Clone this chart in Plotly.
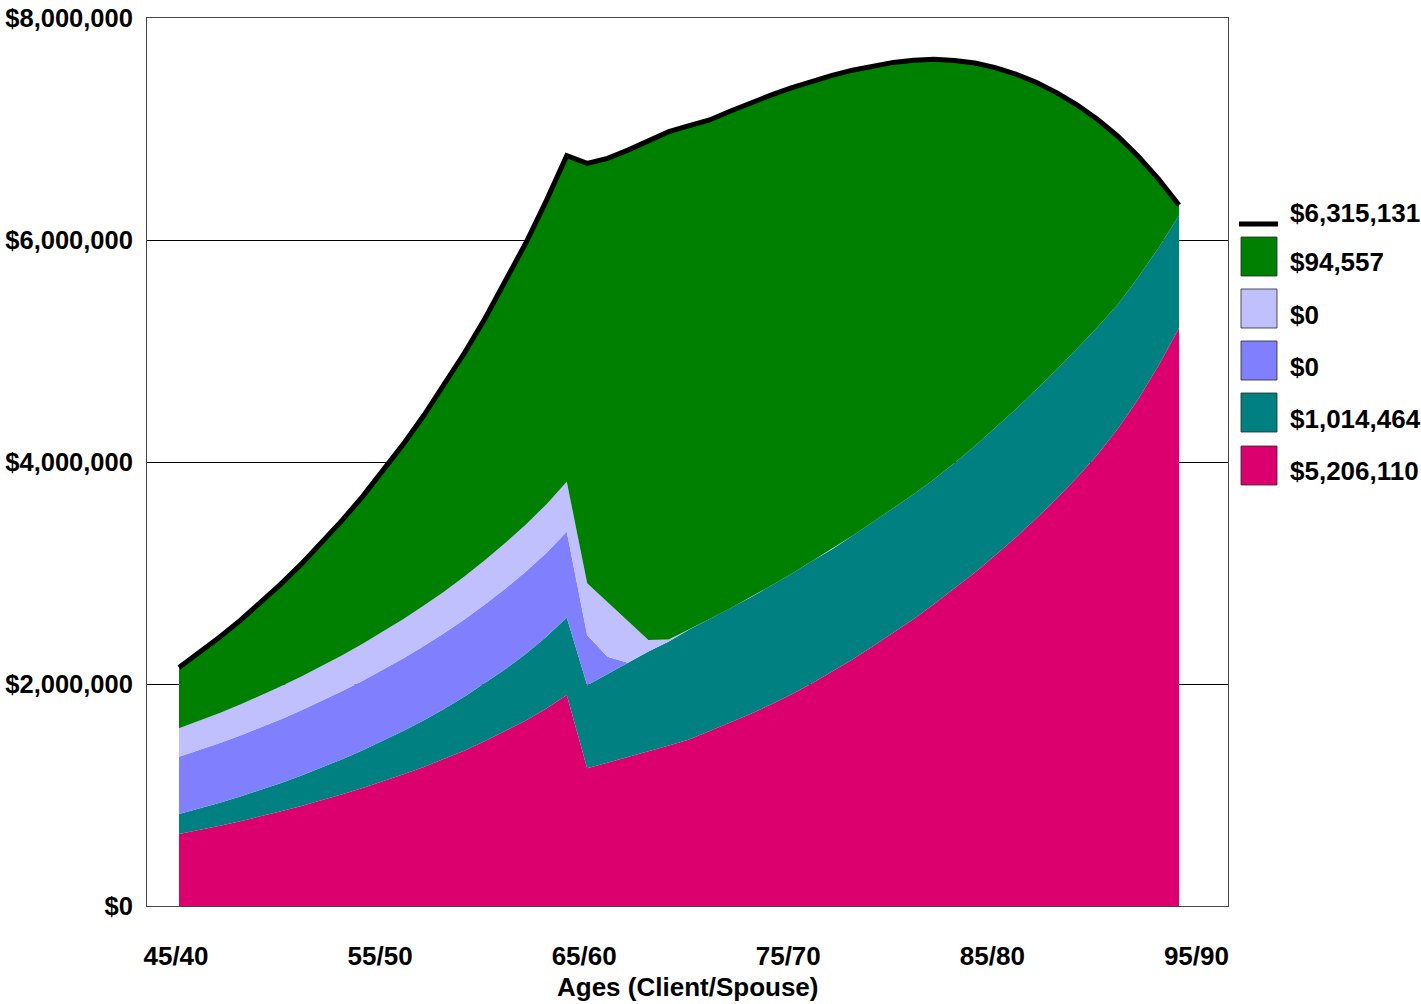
import plotly.graph_objects as go

# Client ages 45..94 (spouse is five years younger)
ages = list(range(45, 95))
tick_ages = [45, 55, 65, 75, 85, 95]
tick_labels = ["45/40", "55/50", "65/60", "75/70", "85/80", "95/90"]
y_ticks = [0, 2000000, 4000000, 6000000, 8000000]
y_tick_labels = ["$0", "$2,000,000", "$4,000,000", "$6,000,000", "$8,000,000"]

# Year-end balances by account bucket (dollars), bottom of the stack first
pink = [649000, 685000, 723000, 764000, 807000, 853000, 901000, 952000, 1006000, 1063000,
        1123000, 1186000, 1253000, 1324000, 1402000, 1486000, 1576000, 1672000, 1780000, 1900000,
        1240000, 1290000, 1340000, 1390000, 1445000, 1500000, 1575000, 1650000, 1730000, 1815000,
        1905000, 2005000, 2110000, 2220000, 2340000, 2460000, 2585000, 2720000, 2860000, 3005000,
        3160000, 3320000, 3490000, 3670000, 3860000, 4065000, 4300000, 4565000, 4870000, 5206110]
teal = [180000, 193000, 207000, 222000, 238000, 256000, 275000, 295000, 317000, 340000,
        365000, 392000, 421000, 452000, 485000, 521000, 559000, 600000, 645000, 700000,
        749000, 800000, 852000, 902000, 939000, 990000, 1010000, 1030000, 1050000, 1070000,
        1085000, 1100000, 1105000, 1115000, 1120000, 1125000, 1125000, 1125000, 1130000, 1140000,
        1150000, 1155000, 1160000, 1160000, 1160000, 1150000, 1120000, 1100000, 1060000, 1014464]
blue = [516000, 527000, 538000, 550000, 562000, 574000, 587000, 600000, 613000, 627000,
        641000, 655000, 669000, 683000, 697000, 711000, 726000, 741000, 756000, 772000,
        452000, 156000, 0, 0, 0, 0, 0, 0, 0, 0,
        0, 0, 0, 0, 0, 0, 0, 0, 0, 0,
        0, 0, 0, 0, 0, 0, 0, 0, 0, 0]
lavender = [256000, 263000, 271000, 279000, 287000, 296000, 305000, 314000, 323000, 333000,
            343000, 353000, 364000, 375000, 387000, 399000, 411000, 424000, 437000, 451000,
            466000, 491000, 375000, 104000, 18000, 0, 0, 0, 0, 0,
            0, 0, 0, 0, 0, 0, 0, 0, 0, 0,
            0, 0, 0, 0, 0, 0, 0, 0, 0, 0]
green = [547000, 613000, 684000, 758000, 838000, 923000, 1014000, 1112000, 1217000, 1328000,
         1448000, 1577000, 1714000, 1861000, 2015000, 2178000, 2352000, 2538000, 2737000, 2937000,
         3783000, 3998000, 4243000, 4494000, 4574000, 4540000, 4496000, 4480000, 4455000, 4420000,
         4380000, 4325000, 4268000, 4195000, 4110000, 4015000, 3910000, 3783000, 3628000, 3450000,
         3243000, 3020000, 2770000, 2498000, 2198000, 1873000, 1515000, 1090000, 618000, 94557]

total = [a + b + c + d + e for a, b, c, d, e in zip(pink, teal, blue, lavender, green)]

layers = [
    (pink, "#DC006E"),
    (teal, "#008080"),
    (blue, "#8080FF"),
    (lavender, "#C0C0FF"),
    (green, "#008000"),
]

W, H = 1421, 1004
ML, MR, MT, MB = 147, 193, 18, 98
FONT = "Liberation Sans, Arial, Helvetica, sans-serif"

fig = go.Figure()
for vals, col in layers:
    fig.add_trace(go.Scatter(
        x=ages, y=vals, mode="lines", stackgroup="one",
        line=dict(width=0, color=col), fillcolor=col,
        showlegend=False, hoverinfo="skip",
    ))
fig.add_trace(go.Scatter(
    x=ages, y=total, mode="lines",
    line=dict(color="black", width=5),
    showlegend=False, hoverinfo="skip",
))

# Custom legend on the right: ending balance of each bucket
plot_w = W - ML - MR
plot_h = H - MT - MB


def px_x(p):
    return (p - ML) / plot_w


def px_y(p):
    return (H - MB - p) / plot_h


shapes = []
annotations = []
legend_items = [("line", "black", total[-1], 213)]
for (vals, col), cy in zip(reversed(layers), [262, 315, 367, 419, 471]):
    legend_items.append(("box", col, vals[-1], cy))

box_tops = [237, 289, 341, 393, 446]
bi = 0
for kind, col, val, ty in legend_items:
    if kind == "line":
        shapes.append(dict(type="line", xref="paper", yref="paper",
                           x0=px_x(1239), x1=px_x(1278), y0=px_y(224), y1=px_y(224),
                           line=dict(color=col, width=5)))
    else:
        top = box_tops[bi]
        bi += 1
        shapes.append(dict(type="rect", xref="paper", yref="paper",
                           x0=px_x(1241), x1=px_x(1277), y0=px_y(top + 39), y1=px_y(top),
                           fillcolor=col, line=dict(color="rgba(40,40,40,0.8)", width=1)))
    annotations.append(dict(
        xref="paper", yref="paper", x=px_x(1288), y=px_y(ty),
        xanchor="left", yanchor="middle", showarrow=False,
        text=f"<b>${val:,.0f}</b>",
        font=dict(family=FONT, size=26, color="black"),
    ))

# Axis title sits just above the bottom edge of the page
annotations.append(dict(
    xref="paper", yref="paper", x=px_x(687), y=px_y(987),
    xanchor="center", yanchor="middle", showarrow=False,
    text="<b>Ages (Client/Spouse)</b>",
    font=dict(family=FONT, size=26, color="black"),
))

fig.update_layout(
    width=W, height=H,
    margin=dict(l=ML, r=MR, t=MT, b=MB, pad=0, autoexpand=False),
    paper_bgcolor="white", plot_bgcolor="white",
    shapes=shapes, annotations=annotations,
    showlegend=False,
    xaxis=dict(
        range=[45 - 32 / (1000 / 49), 94 + 49 / (1000 / 49)],
        tickvals=tick_ages, ticktext=[f"<b>{t}</b>" for t in tick_labels],
        tickfont=dict(family=FONT, size=26, color="black"),
        ticks="", ticklabelstandoff=27, ticklabelshift=-3,
        showgrid=False, zeroline=False, automargin=False,
        showline=True, mirror=True, linecolor="#444", linewidth=1,
    ),
    yaxis=dict(
        range=[0, 8000000],
        tickvals=y_ticks, ticktext=[f"<b>{t}</b>" for t in y_tick_labels],
        tickfont=dict(family=FONT, size=25.5, color="black"),
        ticks="", ticklabelstandoff=8,
        showgrid=True, gridcolor="black", gridwidth=1,
        zeroline=False, automargin=False,
        showline=True, mirror=True, linecolor="#444", linewidth=1,
    ),
)

fig.write_html("out.html")
